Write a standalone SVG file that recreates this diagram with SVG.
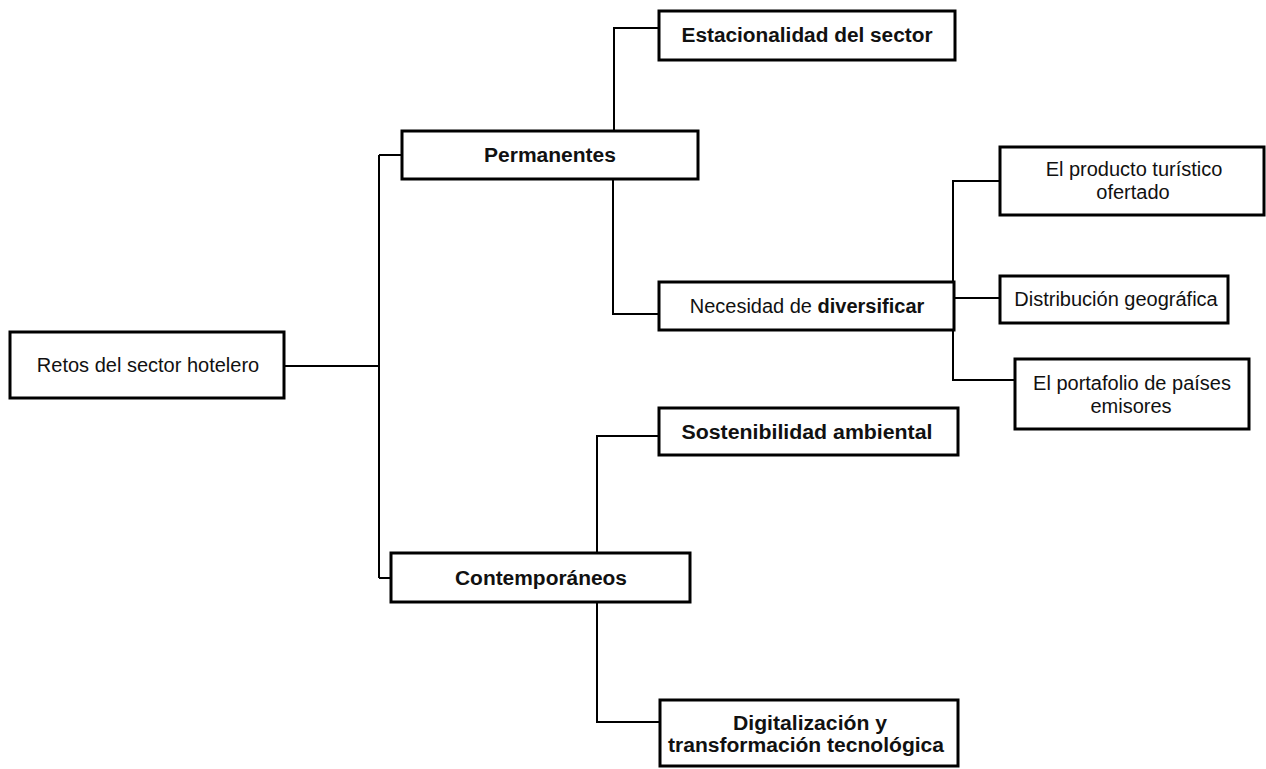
<svg xmlns="http://www.w3.org/2000/svg" width="1266" height="769" viewBox="0 0 1266 769">
<style>
.box{fill:#fff;stroke:#000;stroke-width:3}
.t{font-family:"Liberation Sans",Arial,sans-serif;font-size:20px;fill:#111;text-anchor:middle}
.b{font-weight:bold}
.c{fill:none;stroke:#000;stroke-width:2}
</style>
<rect width="1266" height="769" fill="#fff"/>
<g id="connectors">
<path class="c" d="M284 366 H379"/>
<path class="c" d="M379 155 V578"/>
<path class="c" d="M379 155 H402"/>
<path class="c" d="M379 578 H391"/>
<path class="c" d="M614 131 V28 H659"/>
<path class="c" d="M613 179 V314 H659"/>
<path class="c" d="M953 282 V181 H1000"/>
<path class="c" d="M953 330 V380 H1015"/>
<path class="c" d="M955 298 H1000"/>
<path class="c" d="M597 553 V436 H659"/>
<path class="c" d="M597 602 V722 H660"/>
</g>
<g id="retos">
<rect class="box" x="10" y="332" width="274" height="66"/>
<text class="t" x="148" y="372">Retos del sector hotelero</text>
</g>
<g id="permanentes">
<rect class="box" x="402" y="131" width="296" height="48"/>
<text class="t b" x="550" y="162" textLength="132" lengthAdjust="spacingAndGlyphs">Permanentes</text>
</g>
<g id="estacionalidad">
<rect class="box" x="659" y="11" width="296" height="49"/>
<text class="t b" x="807" y="42" textLength="251" lengthAdjust="spacingAndGlyphs">Estacionalidad del sector</text>
</g>
<g id="necesidad">
<rect class="box" x="659" y="282" width="295" height="48"/>
<text class="t" x="807" y="313">Necesidad de <tspan class="b">diversificar</tspan></text>
</g>
<g id="producto">
<rect class="box" x="1000" y="147" width="264" height="68"/>
<text class="t" x="1134" y="176">El producto turístico</text>
<text class="t" x="1133" y="199">ofertado</text>
</g>
<g id="distribucion">
<rect class="box" x="1000" y="276" width="228" height="47"/>
<text class="t" x="1116" y="306">Distribución geográfica</text>
</g>
<g id="portafolio">
<rect class="box" x="1015" y="359" width="234" height="70"/>
<text class="t" x="1132" y="390">El portafolio de países</text>
<text class="t" x="1131" y="413">emisores</text>
</g>
<g id="contemporaneos">
<rect class="box" x="391" y="553" width="299" height="49"/>
<text class="t b" x="541" y="585" textLength="172" lengthAdjust="spacingAndGlyphs">Contemporáneos</text>
</g>
<g id="sostenibilidad">
<rect class="box" x="659" y="408" width="299" height="47"/>
<text class="t b" x="807" y="439" textLength="251" lengthAdjust="spacingAndGlyphs">Sostenibilidad ambiental</text>
</g>
<g id="digitalizacion">
<rect class="box" x="660" y="700" width="298" height="66"/>
<text class="t b" x="810" y="730" textLength="154" lengthAdjust="spacingAndGlyphs">Digitalización y</text>
<text class="t b" x="806" y="752" textLength="276" lengthAdjust="spacingAndGlyphs">transformación tecnológica</text>
</g>
</svg>
